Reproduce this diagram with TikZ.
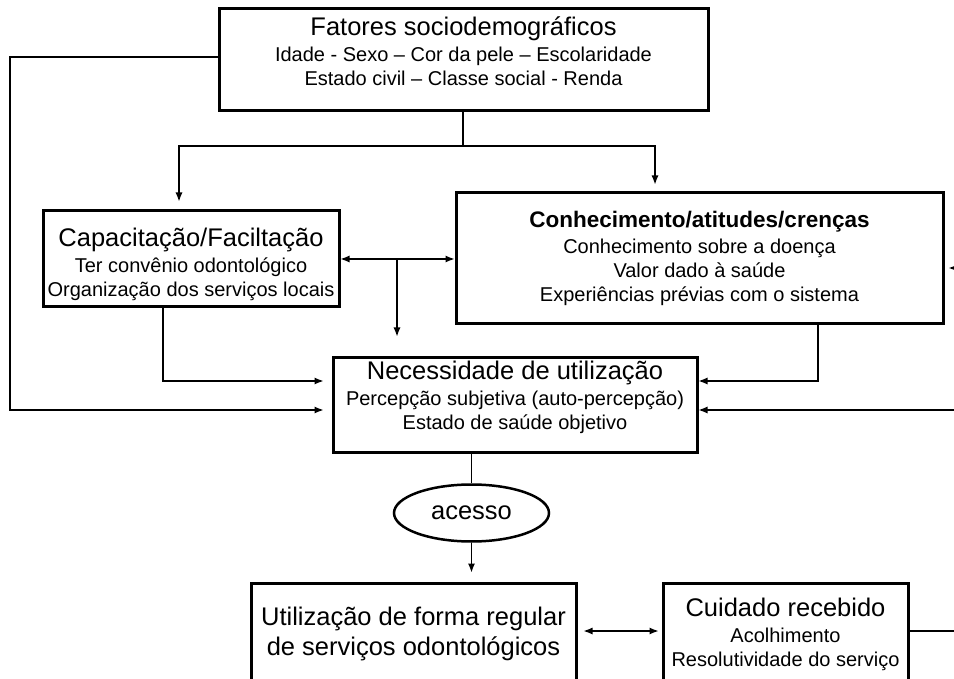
\documentclass[tikz,border=0pt]{standalone}
\usepackage{fontspec}
\setmainfont{Liberation Sans}
\usetikzlibrary{arrows.meta, shapes.geometric}

\newcommand\titfont{\fontsize{25.5}{30}\selectfont}
\newcommand\subfont{\fontsize{20}{24}\selectfont}
\newcommand\lowpad[1]{\rule[-#1]{0pt}{#1}}
\newcommand\toppad[1]{\rule{0pt}{#1}}

\begin{document}
\begin{tikzpicture}[
  x=1pt, y=-1pt,
  box/.style={draw, line width=3pt, align=center, inner sep=0pt, font=\subfont},
  line/.style={line width=1.2pt},
  arrow/.style={line, -{Latex[length=9pt, width=7pt]}},
  twoway/.style={line, {Latex[length=9pt, width=7pt]}-{Latex[length=9pt, width=7pt]}}
]
\useasboundingbox (0,0) rectangle (954,679);
\clip (0,0) rectangle (954,679);

\node[box, minimum width=489, minimum height=102] (fat) at (463.5,59.5) {{\titfont Fatores sociodemográficos}\\[2pt] Idade - Sexo – Cor da pele – Escolaridade\\ Estado civil – Classe social - Renda\lowpad{17pt}};
\node[box, minimum width=296, minimum height=96] (cap) at (191,259) {\toppad{29pt}{\titfont Capacitação/Faciltação}\\[2pt] Ter convênio odontológico\\ Organização dos serviços locais};
\node[box, minimum width=487, minimum height=131] (con) at (699.5,258.5) {\toppad{13pt}{\fontsize{22.5}{27}\selectfont\bfseries Conhecimento/atitudes/crenças}\\[2pt] Conhecimento sobre a doença\\ Valor dado à saúde\\ Experiências prévias com o sistema};
\node[box, minimum width=364, minimum height=95] (nec) at (515,404.5) {{\titfont Necessidade de utilização}\\[2pt] Percepção subjetiva (auto-percepção)\\ Estado de saúde objetivo\lowpad{17.6pt}};
\node[ellipse, draw, line width=2.5pt, minimum width=155, minimum height=57, inner sep=0pt, font=\titfont] (acc) at (471.5,513) {acesso};
\node[box, font=\titfont, minimum width=325, minimum height=102] (uti) at (413.5,634) {Utilização de forma regular\\ de serviços odontológicos};
\node[box, minimum width=245, minimum height=102] (cui) at (785.5,634) {{\titfont Cuidado recebido}\\[2pt] Acolhimento\\ Resolutividade do serviço};

\coordinate (split) at (463,146);
\coordinate (leftrail) at (10,410);
\coordinate (capdrop) at (163,381);
\coordinate (condrop) at (818,381);
\coordinate (mid) at (397,259);
\coordinate (rr1) at (975,268);
\coordinate (rr2) at (975,410);

\draw[line] (split |- fat.south) -- (split);
\draw[arrow, shorten >=8pt] (split) -| ([xshift=-12pt]cap.north);
\draw[arrow, shorten >=7pt] (split) -| ([xshift=-44.5pt]con.north);
\draw[arrow, shorten >=8pt] ([yshift=2.5pt]fat.west) -| (leftrail) -- (leftrail -| nec.west);
\draw[arrow, shorten >=8pt] (capdrop |- cap.south) -- (capdrop) -- (capdrop -| nec.west);
\draw[twoway] (cap.east) -- (cap.east -| con.west);
\draw[arrow, shorten >=19pt] (mid) -- (mid |- nec.north);
\draw[arrow] (condrop |- con.south) -- (condrop) -- (condrop -| nec.east);
\draw[line] ([yshift=3pt]cui.east) -| (rr1);
\draw[arrow, shorten >=4pt] (rr1) -- (rr1 -| con.east);
\draw[arrow] (rr2) -- (rr2 -| nec.east);
\draw[line] (acc.north |- nec.south) -- (acc.north);
\draw[arrow, shorten >=9pt] (acc.south) -- (acc.south |- uti.north);
\draw[twoway, shorten <=6pt, shorten >=3pt] ([yshift=3pt]uti.east) -- ([yshift=3pt]cui.west);
\end{tikzpicture}
\end{document}
